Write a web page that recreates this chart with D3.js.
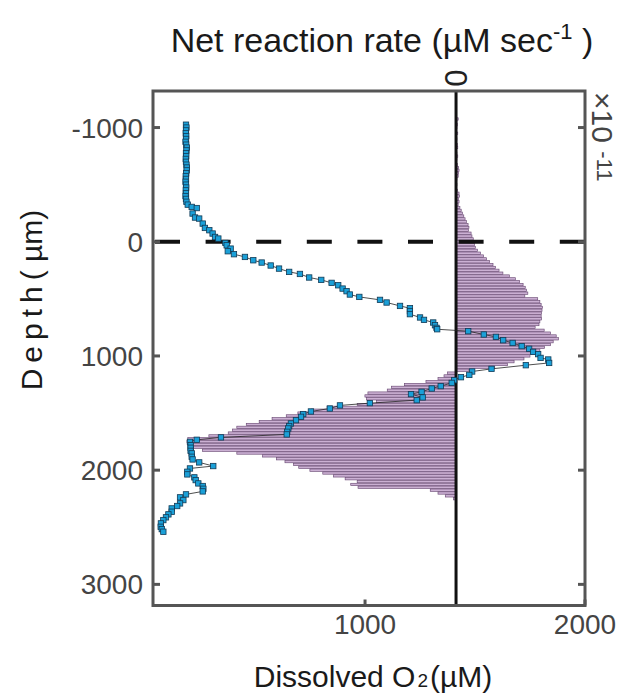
<!DOCTYPE html>
<html><head><meta charset="utf-8">
<script src="https://cdn.jsdelivr.net/npm/d3@7"></script>
<style>body{margin:0;background:#fff}svg{display:block}</style>
</head><body>
<svg id="c" width="624" height="696"></svg>
<script>
// ---------- data ----------
const o2Depth = [-1025,-1000,-975,-950,-925,-900,-875,-850,-825,-800,-775,-750,-725,-700,-675,-650,-625,-600,-575,-550,-525,-500,-475,-450,-425,-400,-375,-350,-325,
 -305,-295,-247,-212,-203,-159,-121,-101,-72,-42,-28,10,31,60,83,109,133,162,182,208,235,264,282,313,334,360,381,410,433,462,483,509,532,562,582,608,634,663,684,707,731,754,766,
 783,812,833,862,886,914,937,964,984,1017,1031,1061,1081,1113,1136,1166,1186,1212,1236,1264,1285,1314,1334,1363,1387,1413,1433,1460,1486,1509,1533,1562,1591,1614,1635,1664,1687,
 1713,1734,1752,1781,1804,1831,1853,1883,1906,1932,1964,1985,2014,2037,2063,2087,2116,2139,2163,2186,2212,2238,2262,2291,2314,2335,2364,2387,2413,2437,2466,2496,2516,2539];
const o2Value = [186,188,186,185,187,186,184,187,190,188,186,187,185,186,188,190,189,187,185,186,184,186,187,185,186,184,186,188,194,
 212,235,216,227,246,262,272,292,307,318,333,365,371,389,376,404,454,492,530,571,609,655,704,746,801,848,878,898,916,931,974,1068,1098,1159,1204,1204,1204,1250,1268,1310,1318,1325,1328,
 1469,1540,1595,1628,1671,1712,1746,1764,1787,1798,1833,1837,1731,1575,1487,1474,1436,1405,1394,1344,1303,1257,1209,1262,1235,1022,886,840,754,719,709,686,663,655,651,646,644,
 345,235,204,207,207,207,212,212,216,246,310,204,192,192,224,230,242,262,265,262,186,159,174,159,146,121,121,106,95,83,72,71,76,83];

const rateDepth = [-1075,-1050,-1025,-1000,-975,-950,-925,-900,-875,-850,-825,-800,-775,-750,-725,-700,-675,-650,-625,-600,-575,-550,-525,-500,-475,-450,-425,-400,-375,-350,-325,
 -300,-275,-250,-225,-200,-175,-150,-125,-100,-75,-50,-25,0,25,50,75,100,125,150,175,200,225,250,275,300,325,350,375,400,425,450,475,500,525,550,575,600,625,650,675,700,725,750,
 775,800,825,850,875,900,925,950,975,1000,1025,1050,1075,1100,1125,
 1150,1175,1200,1225,1250,1275,1300,1325,1350,1375,1400,1425,1450,1475,1500,1525,1550,1575,1600,1625,1650,1675,1700,1725,1750,1775,1800,1825,1850,1875,1900,1925,1950,1975,2000,
 2025,2050,2075,2100,2125,2150,2175,2200,2225,2250];
// net reaction rate, units of 1e-11 µM/sec
const rateValue = [0.05,0.02,0.03,0.02,0.01,0.04,0.01,0.02,0.01,0.03,0.04,0.01,0.02,0.04,0.02,0.01,0.03,0.06,0.07,0.06,0.05,0.02,0.01,0.02,0.01,0.03,0.07,0.08,0.06,0.07,0.05,
 0.09,0.12,0.15,0.18,0.21,0.24,0.28,0.30,0.29,0.35,0.37,0.40,0.43,0.43,0.45,0.50,0.57,0.64,0.71,0.78,0.86,0.92,1.00,1.09,1.24,1.38,1.48,1.56,1.61,1.64,1.67,1.60,1.90,1.95,1.98,2.01,2.00,1.99,1.98,1.99,1.95,1.93,1.84,
 2.05,2.20,2.33,2.38,2.26,2.20,2.06,1.95,1.82,1.72,1.58,1.35,1.20,0.90,0.30,
 -0.20,-0.28,-0.42,-0.70,-1.20,-1.50,-1.60,-2.05,-2.12,-2.08,-1.85,-2.30,-3.00,-3.36,-3.68,-3.95,-4.28,-4.58,-4.88,-5.10,-5.20,-5.30,-5.75,-6.24,-6.26,-6.24,-6.20,-5.90,-5.10,-4.50,-4.18,-3.98,-3.78,-3.66,-3.40,
 -3.10,-2.85,-2.58,-2.30,-2.45,-2.28,-0.60,-0.42,-0.25,-0.06];

const depthTicks = [-1000, 0, 1000, 2000, 3000];
const o2Ticks = [1000, 2000];
const rateTicks = [0];

// ---------- layout ----------
const svg = d3.select("#c");
const L = 153, R = 585, T = 91, B = 605.5;
const x = d3.scaleLinear().domain([36, 2000]).range([L, R]);
const y = d3.scaleLinear().domain([-1320, 3185]).range([T, B]);
const r = d3.scaleLinear().domain([-7.05, 3.0]).range([L, R]);
const FONT = "'Liberation Sans', Arial, Helvetica, sans-serif";
const AX = "#555";

// bars
const bh = (y(25) - y(0)) * 0.82;
svg.append("g").selectAll("rect").data(rateDepth.map((d, i) => ({d, v: rateValue[i]})))
  .join("rect")
  .attr("x", p => Math.min(r(0), r(p.v)))
  .attr("width", p => Math.max(0.6, Math.abs(r(p.v) - r(0))))
  .attr("y", p => y(p.d) - bh / 2)
  .attr("height", bh)
  .attr("fill", "#cbb0d3")
  .attr("stroke", "#6a4a74")
  .attr("stroke-width", 0.65);

// zero line of rate axis
svg.append("line").attr("x1", r(0)).attr("x2", r(0)).attr("y1", T).attr("y2", B)
  .attr("stroke", "#111").attr("stroke-width", 3);

// dashed sediment surface line
svg.append("line").attr("x1", L + 2).attr("x2", R - 1).attr("y1", y(0)).attr("y2", y(0))
  .attr("stroke", "#111").attr("stroke-width", 4).attr("stroke-dasharray", "25,25.6");

// O2 profile
const pts = o2Depth.map((d, i) => [x(o2Value[i]), y(d)]);
svg.append("path").attr("d", d3.line()(pts)).attr("fill", "none")
  .attr("stroke", "#222").attr("stroke-width", 0.8);
svg.append("g").selectAll("rect").data(pts).join("rect")
  .attr("x", p => p[0] - 2.7).attr("y", p => p[1] - 2.7)
  .attr("width", 5.4).attr("height", 5.4)
  .attr("fill", "#1ba0d8").attr("stroke", "#123a55").attr("stroke-width", 0.8);

// frame
svg.append("rect").attr("x", L).attr("y", T).attr("width", R - L).attr("height", B - T)
  .attr("fill", "none").attr("stroke", AX).attr("stroke-width", 3);

// depth ticks (both sides, inward)
const tk = svg.append("g").attr("stroke", AX).attr("stroke-width", 3);
depthTicks.forEach(t => {
  tk.append("line").attr("x1", L).attr("x2", L + 7).attr("y1", y(t)).attr("y2", y(t));
  tk.append("line").attr("x1", R).attr("x2", R - 7).attr("y1", y(t)).attr("y2", y(t));
});
o2Ticks.forEach(t => {
  tk.append("line").attr("x1", x(t)).attr("x2", x(t)).attr("y1", B).attr("y2", B - 6);
});

// tick labels
svg.append("g").selectAll("text").data(depthTicks).join("text")
  .attr("x", L - 10).attr("y", t => y(t) + 10)
  .attr("text-anchor", "end").attr("font-family", FONT).attr("font-size", 28)
  .attr("fill", "#444").text(t => t);
svg.append("g").selectAll("text").data(o2Ticks).join("text")
  .attr("x", t => x(t)).attr("y", 634)
  .attr("text-anchor", "middle").attr("font-family", FONT).attr("font-size", 28)
  .attr("fill", "#444").text(t => t);
svg.append("g").selectAll("text").data(rateTicks).join("text")
  .attr("transform", t => `translate(${r(t) - 11},78) rotate(90)`)
  .attr("text-anchor", "middle").attr("font-family", FONT).attr("font-size", 31)
  .attr("fill", "#222").text(t => t);

// exponent label
const ex = svg.append("text").attr("transform", "translate(592,92) rotate(90)")
  .attr("font-family", FONT).attr("font-size", 30).attr("fill", "#444");
ex.append("tspan").text("×10 ");
ex.append("tspan").attr("font-size", 22).attr("dy", -5).text("-11");

// titles
const tt = svg.append("text").attr("x", 382).attr("y", 52).attr("text-anchor", "middle")
  .attr("font-family", FONT).attr("font-size", 34).attr("fill", "#1a1a1a");
tt.append("tspan").text("Net reaction rate (µM sec");
tt.append("tspan").attr("font-size", 22).attr("dy", -13).text("-1");
tt.append("tspan").attr("dy", 13).text(" )");

const xl = svg.append("text").attr("x", 373).attr("y", 687).attr("text-anchor", "middle")
  .attr("font-family", FONT).attr("font-size", 30).attr("fill", "#1a1a1a");
xl.append("tspan").text("Dissolved O");
xl.append("tspan").attr("font-size", 19).attr("dx", 2).text("2");
xl.append("tspan").attr("dx", 2).text("(µM)");

const yl = svg.append("text").attr("transform", "translate(42,300) rotate(-90)")
  .attr("text-anchor", "middle").attr("font-family", FONT).attr("font-size", 30).attr("fill", "#1a1a1a");
yl.append("tspan").attr("letter-spacing", 6).text("Depth");
yl.append("tspan").text("( µm)");
</script>
</body></html>
